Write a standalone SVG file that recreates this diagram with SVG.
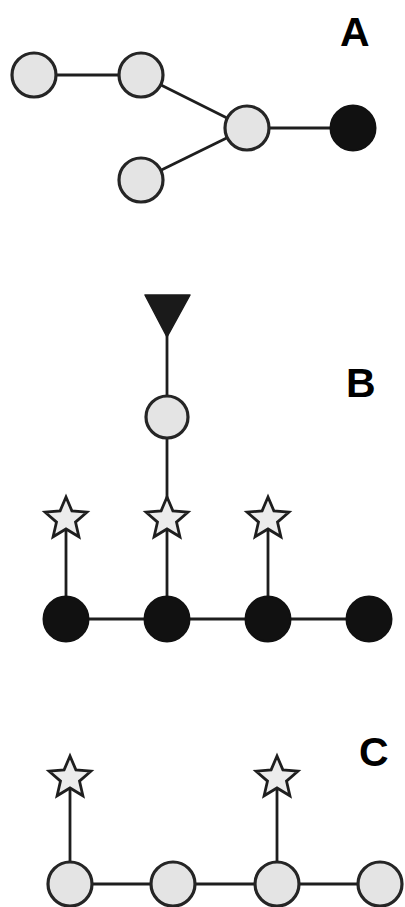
<svg xmlns="http://www.w3.org/2000/svg" width="405" height="907" viewBox="0 0 405 907">
<defs>
<style>
.edge{stroke:#1e1e1e;stroke-width:2.8;fill:none}
.lt{fill:#e4e4e4;stroke:#252525;stroke-width:3.2}
.dk{fill:#111;stroke:#111;stroke-width:2}
.star{fill:#ececec;stroke:#1e1e1e;stroke-width:2.8;stroke-linejoin:miter}
.lbl{font-family:"Liberation Sans",Arial,sans-serif;font-weight:bold;font-size:41px;fill:#000}
</style>
<polygon id="starShape" points="0,-22 5.9,-8.1 20.9,-6.8 9.5,3.1 12.9,17.8 0,10 -12.9,17.8 -9.5,3.1 -20.9,-6.8 -5.9,-8.1"/>
</defs>
<rect width="405" height="907" fill="#fff"/>
<g id="connectors">
<line class="edge" x1="34" y1="75" x2="141" y2="75"/>
<line class="edge" x1="141" y1="75" x2="247" y2="128"/>
<line class="edge" x1="141" y1="180" x2="247" y2="128"/>
<line class="edge" x1="247" y1="128" x2="353" y2="128"/>
<line class="edge" x1="167" y1="330" x2="167" y2="417"/>
<line class="edge" x1="167" y1="417" x2="167" y2="619"/>
<line class="edge" x1="66" y1="519" x2="66" y2="619"/>
<line class="edge" x1="268" y1="519" x2="268" y2="619"/>
<line class="edge" x1="66" y1="619" x2="369" y2="619"/>
<line class="edge" x1="70" y1="778" x2="70" y2="884"/>
<line class="edge" x1="277" y1="778" x2="277" y2="884"/>
<line class="edge" x1="70" y1="884" x2="380" y2="884"/>
</g>
<g id="panelA">
<g id="a1"><circle class="lt" cx="34" cy="75" r="22"/></g>
<g id="a2"><circle class="lt" cx="141" cy="75" r="22"/></g>
<g id="a3"><circle class="lt" cx="247" cy="128" r="22"/></g>
<g id="a4"><circle class="dk" cx="353" cy="128" r="22.5"/></g>
<g id="a5"><circle class="lt" cx="141" cy="180" r="22"/></g>
<text class="lbl" x="340" y="46">A</text>
</g>
<g id="panelB">
<g id="b_tri"><polygon points="145,295 190,295 167,337" fill="#1a1a1a" stroke="#1a1a1a" stroke-width="1.5" stroke-linejoin="round"/></g>
<g id="b_c"><circle class="lt" cx="167" cy="417" r="21"/></g>
<g id="b_s1"><use href="#starShape" class="star" x="66" y="519"/></g>
<g id="b_s2"><use href="#starShape" class="star" x="167" y="519"/></g>
<g id="b_s3"><use href="#starShape" class="star" x="268" y="519"/></g>
<g id="b_d1"><circle class="dk" cx="66" cy="619" r="22.5"/></g>
<g id="b_d2"><circle class="dk" cx="167" cy="619" r="22.5"/></g>
<g id="b_d3"><circle class="dk" cx="268" cy="619" r="22.5"/></g>
<g id="b_d4"><circle class="dk" cx="369" cy="619" r="22.5"/></g>
<text class="lbl" x="346" y="397">B</text>
</g>
<g id="panelC">
<g id="c_s1"><use href="#starShape" class="star" x="70" y="778"/></g>
<g id="c_s2"><use href="#starShape" class="star" x="277" y="778"/></g>
<g id="c_1"><circle class="lt" cx="70" cy="884" r="22"/></g>
<g id="c_2"><circle class="lt" cx="173" cy="884" r="22"/></g>
<g id="c_3"><circle class="lt" cx="277" cy="884" r="22"/></g>
<g id="c_4"><circle class="lt" cx="380" cy="884" r="22"/></g>
<text class="lbl" x="359" y="766">C</text>
</g>
</svg>
